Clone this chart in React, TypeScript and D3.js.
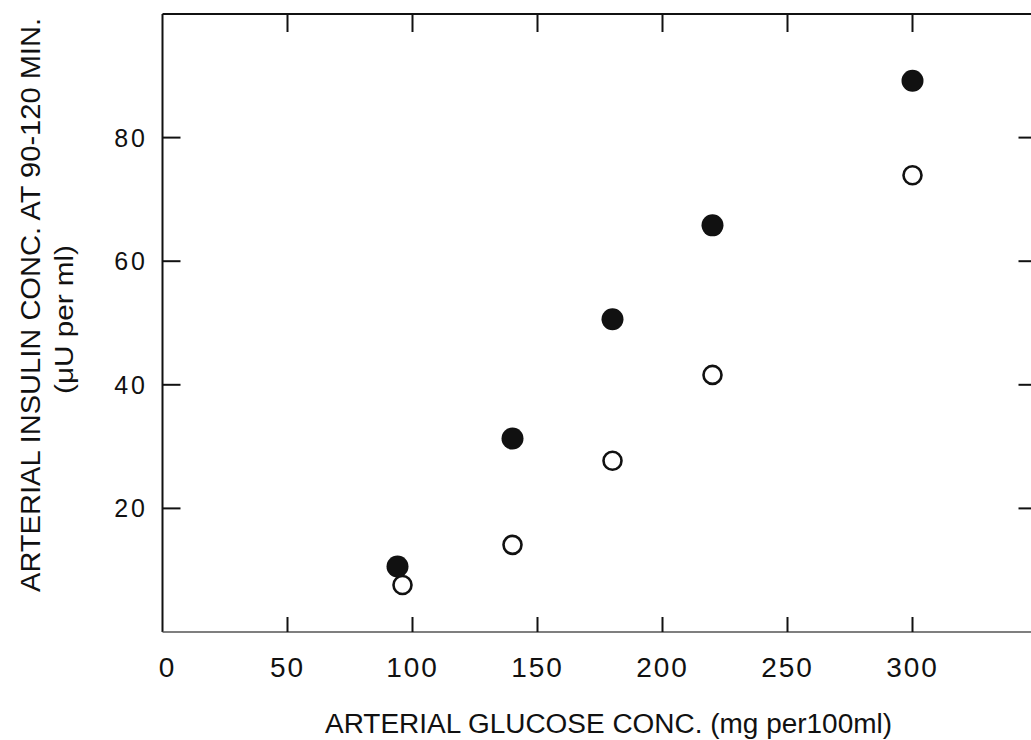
import * as d3 from "d3";

// glucose (mg per 100 ml) vs insulin (µU per ml)
const filledGlucose = [94, 140, 180, 220, 300];
const filledInsulin = [10.6, 31.3, 50.6, 65.8, 89.2];
const openGlucose = [96, 140, 180, 220, 300];
const openInsulin = [7.6, 14.1, 27.7, 41.6, 73.9];

const xTicks = [50, 100, 150, 200, 250, 300];
const xLabels = [0, 50, 100, 150, 200, 250, 300];
const yTicks = [20, 40, 60, 80];

const W = 1031;
const H = 740;
const FONT = "'Liberation Sans', Arial, sans-serif";

export default function App() {
  const x = d3.scaleLinear().domain([0, 350]).range([162.5, 1037.5]);
  const y = d3.scaleLinear().domain([0, 100]).range([632, 14]);

  const left = x(0);
  const right = x(350);
  const top = y(100);
  const bottom = y(0);

  return (
    <svg
      width={W}
      height={H}
      viewBox={`0 0 ${W} ${H}`}
      style={{ position: "absolute", left: 0, top: 0, background: "#fff" }}
    >
      <rect width={W} height={H} fill="#fff" />
      {/* frame */}
      <g stroke="#111" fill="none">
        <line x1={left} x2={right} y1={top} y2={top} strokeWidth={2} />
        <line x1={left} x2={left} y1={top} y2={bottom} strokeWidth={2} />
        <line x1={right} x2={right} y1={top} y2={bottom} strokeWidth={2} />
        <line x1={left} x2={right} y1={bottom} y2={bottom} strokeWidth={1.4} stroke="#555" />
      </g>

      {/* ticks */}
      <g stroke="#111" strokeWidth={2}>
        {xTicks.map((t) => (
          <g key={"xt" + t}>
            <line x1={x(t)} x2={x(t)} y1={top} y2={top + 18} />
            <line x1={x(t)} x2={x(t)} y1={bottom} y2={bottom - 15} />
          </g>
        ))}
        {yTicks.map((t) => (
          <g key={"yt" + t}>
            <line x1={left} x2={left + 18} y1={y(t)} y2={y(t)} />
            <line x1={right} x2={right - 19} y1={y(t)} y2={y(t)} />
          </g>
        ))}
      </g>

      {/* tick labels */}
      <g fontFamily={FONT} fontSize={28} fill="#111">
        {xLabels.map((t) => (
          <text
            key={"xl" + t}
            x={x(t) + (t === 0 ? 5 : 0)}
            y={677}
            textAnchor="middle"
            letterSpacing={2}
          >
            {t}
          </text>
        ))}
        {yTicks.map((t) => (
          <text
            key={"yl" + t}
            x={148}
            y={y(t) + 9}
            textAnchor="end"
            letterSpacing={3}
            fontSize={25}
          >
            {t}
          </text>
        ))}
      </g>

      {/* points */}
      <g>
        {openGlucose.map((g, i) => (
          <circle
            key={"o" + i}
            cx={x(g)}
            cy={y(openInsulin[i])}
            r={9}
            fill="#fff"
            stroke="#111"
            strokeWidth={2.6}
          />
        ))}
        {filledGlucose.map((g, i) => (
          <circle
            key={"f" + i}
            cx={x(g)}
            cy={y(filledInsulin[i])}
            r={11}
            fill="#111"
          />
        ))}
      </g>

      {/* axis titles */}
      <g fontFamily={FONT} fill="#111">
        <text
          x={325}
          y={733}
          fontSize={27}
          textLength={567}
          lengthAdjust="spacingAndGlyphs"
        >
          ARTERIAL GLUCOSE CONC. (mg per100ml)
        </text>
        <text
          transform="translate(40,592) rotate(-90)"
          fontSize={28}
          textLength={574}
          lengthAdjust="spacingAndGlyphs"
        >
          ARTERIAL INSULIN CONC. AT 90-120 MIN.
        </text>
        <text
          transform="translate(73,394) rotate(-90)"
          fontSize={26}
          textLength={149}
          lengthAdjust="spacingAndGlyphs"
        >
          (μU per ml)
        </text>
      </g>
    </svg>
  );
}
